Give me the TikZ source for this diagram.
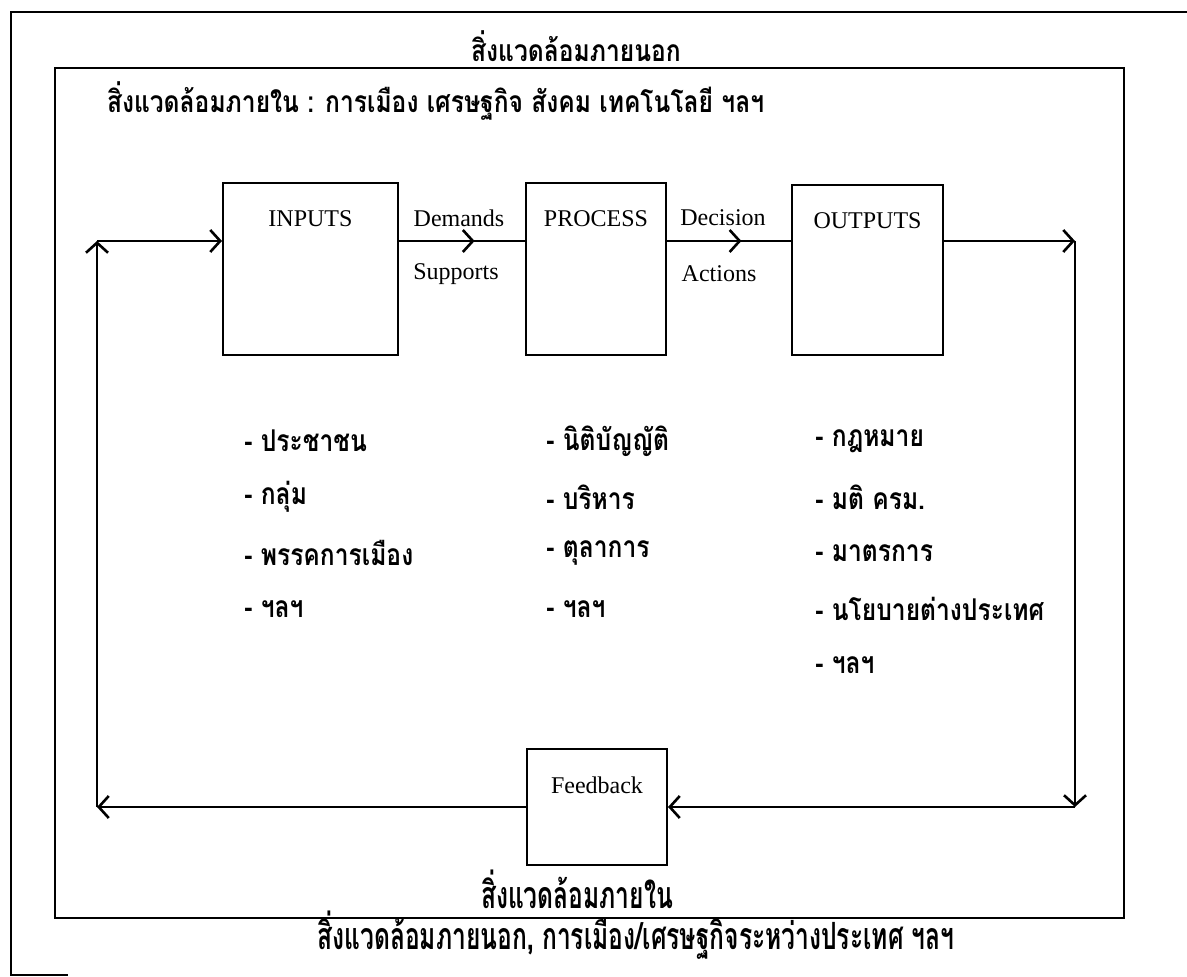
\documentclass[tikz,border=0pt]{standalone}
\usepackage{fontspec}
\setmainfont{Liberation Serif}
\newfontfamily\thaifont[Script=Thai, FakeStretch=0.82]{Loma}
\usetikzlibrary{arrows.meta,decorations.markings}

\tikzset{
  block/.style={draw, line width=1pt, inner sep=0pt},
  latin/.style={font=\fontsize{12}{14}\selectfont},
  thai/.style={font=\thaifont\bfseries\fontsize{15}{17}\selectfont},
  listitem/.style={thai, anchor=west, inner sep=0pt},
  barb/.tip={Straight Barb[length=5pt,width=11pt,line width=1.3pt]},
  flow/.style={line width=1pt, -barb},
  midflow/.style={line width=1pt, postaction={decorate},
    decoration={markings, mark=at position 0.6 with {\arrow{barb}}}},
}

\begin{document}
\begin{tikzpicture}[x=0.5pt, y=-0.5pt]
            \useasboundingbox (0,0) rectangle (1187,977);

            % frames
            \draw[line width=1pt] (1187,12) -- (11,12) -- (11,975) -- (68,975);
            \draw[line width=1pt] (55,68) rectangle (1124,918);

            \node[thai] (outertitle) at (576,46) {สิ่งแวดล้อมภายนอก};
            \node[thai, anchor=west] (innertitle) at (100,101) {สิ่งแวดล้อมภายใน : การเมือง เศรษฐกิจ สังคม เทคโนโลยี ฯลฯ};
            \node[thai] (innerbottom) at (577,889) {\scalebox{1}[1.25]{สิ่งแวดล้อมภายใน}};
            \node[thai] (outerbottom) at (636,935) {\scalebox{1}[1.25]{สิ่งแวดล้อมภายนอก, การเมือง/เศรษฐกิจระหว่างประเทศ ฯลฯ}};

            % boxes
            \node[block, minimum width=87.5pt, minimum height=86pt,
              label={[latin, below=11pt]north:INPUTS}] (inputs) at (310.5,269) {};
            \node[block, minimum width=70pt, minimum height=86pt,
              label={[latin, below=11pt]north:PROCESS}] (process) at (596,269) {};
            \node[block, minimum width=75.5pt, minimum height=85pt,
              label={[latin, below=11pt]north:OUTPUTS}] (outputs) at (867.5,270) {};
            \node[block, minimum width=70pt, minimum height=58pt,
              label={[latin, below=11pt]north:Feedback}] (feedback) at (597,807) {};

            \coordinate (tl) at (97,241);
            \coordinate (tr) at (1075,241);
            \coordinate (br) at (1075,807);
            \coordinate (bl) at (97,807);

            \draw[flow] (bl) -- (tl);
            \draw[flow] (tl) -- (tl -| inputs.west);
            \draw[midflow] (tl -| inputs.east) -- (tl -| process.west);
            \draw[midflow] (tl -| process.east) -- (tl -| outputs.west);
            \draw[flow] (tl -| outputs.east) -- (tr);
            \draw[flow] (tr) -- (br);
            \draw[flow] (br) -- (feedback.east);
            \draw[flow] (feedback.west) -- (bl);

            \node[latin] (demands) at (459,218) {Demands};
            \node[latin] (supports) at (456,274) {Supports};
            \node[latin] (decision) at (723,218) {Decision};
            \node[latin] (actions) at (719,274) {Actions};

            % lists
            \foreach \t [count=\i] in {ประชาชน, กลุ่ม, พรรคการเมือง, ฯลฯ} {
                \node[listitem] (inp\i) at (244, {441 + 56*(\i-1)}) {- \t};
            }
            \foreach \t [count=\i] in {นิติบัญญัติ, บริหาร, ตุลาการ, ฯลฯ} {
                \node[listitem] (pro\i) at (546, {441 + 56*(\i-1)}) {- \t};
            }
            \foreach \t [count=\i] in {กฎหมาย, มติ ครม., มาตรการ, นโยบายต่างประเทศ, ฯลฯ} {
                \node[listitem] (out\i) at (815, {441 + 56*(\i-1)}) {- \t};
            }
        \end{tikzpicture}
\end{document}
